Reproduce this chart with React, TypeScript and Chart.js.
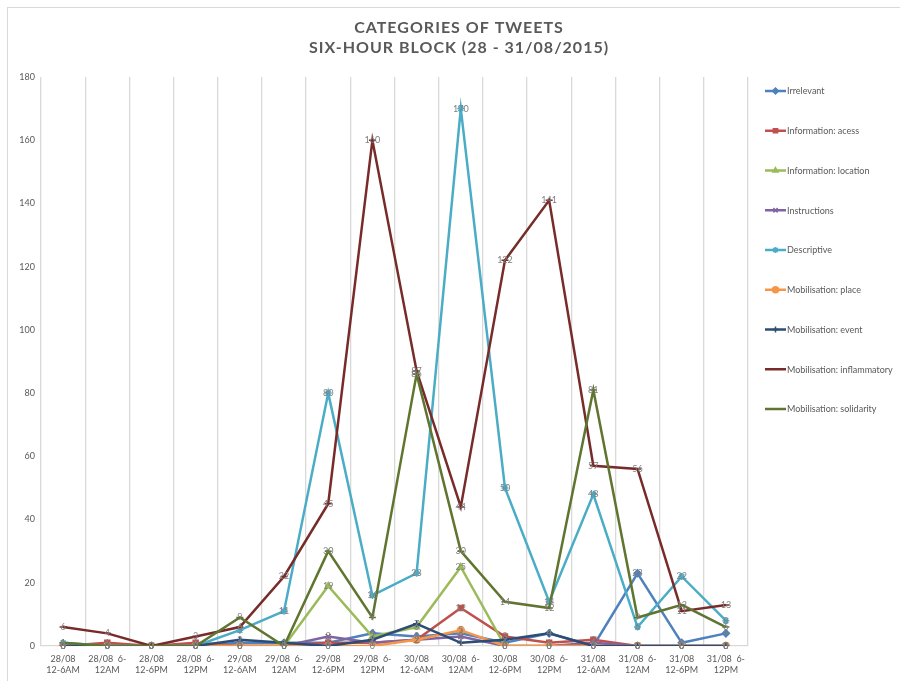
import React, { useEffect, useRef } from 'react';
import { Chart, registerables } from 'chart.js';
import { drawPoint } from 'chart.js/helpers';

Chart.register(...registerables);

const categories: string[][] = [
  ['28/08', '12-6AM'], ['28/08  6-', '12AM'], ['28/08', '12-6PM'], ['28/08  6-', '12PM'],
  ['29/08', '12-6AM'], ['29/08  6-', '12AM'], ['29/08', '12-6PM'], ['29/08  6-', '12PM'],
  ['30/08', '12-6AM'], ['30/08  6-', '12AM'], ['30/08', '12-6PM'], ['30/08  6-', '12PM'],
  ['31/08', '12-6AM'], ['31/08  6-', '12AM'], ['31/08', '12-6PM'], ['31/08  6-', '12PM'],
];

const irrelevant = [0, 0, 0, 0, 1, 1, 1, 4, 3, 4, 1, 4, 0, 23, 1, 4];
const infoAccess = [0, 1, 0, 1, 0, 0, 1, 1, 2, 12, 3, 1, 2, 0, 0, 0];
const infoLocation = [0, 0, 0, 0, 0, 0, 19, 3, 6, 25, 0, 0, 0, 0, 0, 0];
const instructions = [0, 0, 0, 0, 0, 0, 3, 1, 2, 3, 0, 0, 1, 0, 0, 0];
const descriptive = [1, 0, 0, 0, 5, 11, 80, 16, 23, 170, 50, 14, 48, 6, 22, 8];
const mobPlace = [0, 0, 0, 0, 0, 0, 0, 0, 2, 5, 0, 0, 0, 0, 0, 0];
const mobEvent = [0, 0, 0, 0, 2, 1, 0, 2, 7, 1, 2, 4, 0, 0, 0, 0];
const mobInflammatory = [6, 4, 0, 3, 6, 22, 45, 160, 87, 44, 122, 141, 57, 56, 11, 13];
const mobSolidarity = [1, 0, 0, 0, 9, 0, 30, 9, 86, 30, 14, 12, 81, 9, 13, 6];

const seriesNames = [
  'Irrelevant', 'Information: acess', 'Information: location', 'Instructions', 'Descriptive',
  'Mobilisation: place', 'Mobilisation: event', 'Mobilisation: inflammatory', 'Mobilisation: solidarity',
];
const seriesValues = [
  irrelevant, infoAccess, infoLocation, instructions, descriptive,
  mobPlace, mobEvent, mobInflammatory, mobSolidarity,
];
const seriesColors = [
  '#4F81BD', '#C0504D', '#9BBB59', '#8064A2', '#4BACC6',
  '#F79646', '#2C4D75', '#772C2A', '#5F7530',
];
const seriesMarkers = [
  'rectRot', 'rect', 'triangle', 'crossRot', 'star', 'circle', 'cross', 'line', 'line',
];

const yTicks = [0, 20, 40, 60, 80, 100, 120, 140, 160, 180];
const titleLines = ['CATEGORIES OF TWEETS', 'SIX-HOUR BLOCK (28 - 31/08/2015)'];

const FONT = 'Lato, "Open Sans", sans-serif';
const TEXT = '#595959';

const decorPlugin = {
  id: 'decor',
  beforeDraw(chart: any) {
    const ctx = chart.ctx;
    ctx.save();
    ctx.fillStyle = '#ffffff';
    ctx.fillRect(0, 0, chart.width, chart.height);
    ctx.strokeStyle = '#d9d9d9';
    ctx.lineWidth = 1;
    ctx.strokeRect(7.5, 7.5, chart.width + 10, chart.height + 10);
    ctx.restore();
  },
  afterDraw(chart: any) {
    const ctx = chart.ctx;
    ctx.save();
    // title
    ctx.fillStyle = TEXT;
    ctx.font = `bold 16px ${FONT}`;
    (ctx as any).letterSpacing = '1px';
    ctx.textAlign = 'center';
    ctx.textBaseline = 'middle';
    ctx.fillText(titleLines[0], 459, 28);
    ctx.fillText(titleLines[1], 459, 48);
    (ctx as any).letterSpacing = '0px';
    // legend
    ctx.font = `9px ${FONT}`;
    ctx.textAlign = 'left';
    seriesNames.forEach((name, i) => {
      const y = 91 + i * 39.75;
      ctx.strokeStyle = seriesColors[i];
      ctx.fillStyle = seriesColors[i];
      ctx.lineWidth = 2.5;
      ctx.beginPath();
      ctx.moveTo(765, y);
      ctx.lineTo(786, y);
      ctx.stroke();
      ctx.lineWidth = 1.5;
      drawPoint(ctx, { pointStyle: seriesMarkers[i] as any, radius: 3, rotation: 0, borderWidth: 1.5 } as any, 775.5, y);
      ctx.fillStyle = TEXT;
      ctx.fillText(name, 787, y + 0.5);
    });
    ctx.restore();
  },
};

const labelPlugin = {
  id: 'valueLabels',
  afterDatasetsDraw(chart: any) {
    const ctx = chart.ctx;
    ctx.save();
    ctx.font = `9px ${FONT}`;
    ctx.fillStyle = '#7f7f7f';
    ctx.textAlign = 'center';
    ctx.textBaseline = 'middle';
    chart.data.datasets.forEach((ds: any, di: number) => {
      const meta = chart.getDatasetMeta(di);
      meta.data.forEach((pt: any, i: number) => {
        ctx.fillText(String(ds.data[i]), pt.x, pt.y);
      });
    });
    ctx.restore();
  },
};

export default function App() {
  const ref = useRef<HTMLCanvasElement | null>(null);
  useEffect(() => {
    document.body.style.margin = '0';
    const canvas = ref.current;
    if (!canvas) return;
    const chart = new Chart(canvas, {
      type: 'line',
      data: {
        labels: categories,
        datasets: seriesNames.map((name, i) => ({
          label: name,
          data: seriesValues[i],
          borderColor: seriesColors[i],
          backgroundColor: seriesColors[i],
          pointBorderColor: seriesColors[i],
          pointBackgroundColor: seriesColors[i],
          pointStyle: seriesMarkers[i] as any,
          pointRadius: 3.5,
          pointBorderWidth: 1.5,
          borderWidth: 2.5,
          tension: 0,
          fill: false,
          order: seriesNames.length - i,
        })),
      },
      options: {
        animation: false,
        responsive: false,
        maintainAspectRatio: false,
        layout: { padding: { left: 8, right: 152, top: 77, bottom: 0 } },
        plugins: {
          legend: { display: false },
          title: { display: false },
          tooltip: { enabled: false },
        },
        scales: {
          x: {
            type: 'category',
            offset: true,
            grid: { display: true, offset: true, color: '#d9d9d9', lineWidth: 1.3, drawTicks: false },
            border: { display: true, color: '#d9d9d9', width: 1.3 },
            ticks: {
              autoSkip: false,
              maxRotation: 0,
              minRotation: 0,
              padding: 7,
              color: TEXT,
              font: { family: FONT, size: 9, lineHeight: 1.25 },
            },
            afterFit: (s: any) => { s.height = 35; },
          },
          y: {
            min: 0,
            max: 180,
            afterBuildTicks: (s: any) => { s.ticks = yTicks.map((v) => ({ value: v })); },
            grid: { display: false, drawTicks: false },
            border: { display: false },
            ticks: {
              padding: 6,
              color: TEXT,
              font: { family: FONT, size: 9 },
            },
            afterFit: (s: any) => { s.width = 33; },
          },
        },
      },
      plugins: [decorPlugin, labelPlugin],
    });
    return () => chart.destroy();
  }, []);
  return (
    <div style={{ width: 900, height: 681 }}>
      <canvas ref={ref} width={900} height={681} style={{ display: 'block' }} />
    </div>
  );
}
